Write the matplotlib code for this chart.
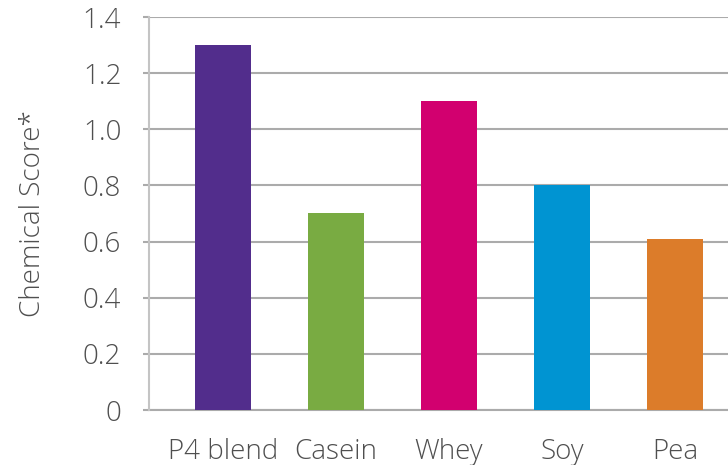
import matplotlib
matplotlib.use("Agg")
import matplotlib.pyplot as plt

categories = ["P4 blend", "Casein", "Whey", "Soy", "Pea"]
scores = [1.30, 0.70, 1.10, 0.80, 0.61]
colors = ["#522d8c", "#79ab42", "#d2006f", "#0094d2", "#dc7c2a"]
yticks = [0, 0.2, 0.4, 0.6, 0.8, 1.0, 1.2, 1.4]
ytick_labels = ["0", "0.2", "0.4", "0.6", "0.8", "1.0", "1.2", "1.4"]

plt.rcParams["font.family"] = ["Open Sans", "DejaVu Sans"]
plt.rcParams["font.weight"] = "light"
plt.rcParams["axes.labelweight"] = "light"
text_color = "#4f4f4f"
grid_color = "#ababab"
fs = 20

fig = plt.figure(figsize=(7.28, 4.65), dpi=100)
ax = fig.add_axes([149 / 728, 1 - 410 / 465, (728 - 149) / 728, (410 - 17) / 465])

x = list(range(len(categories)))
ax.bar(x, scores, width=0.5, color=colors, zorder=3)

ax.set_ylim(0, 1.4)
ax.set_xlim(-0.655, 4.47)
ax.set_yticks(yticks)
ax.set_yticklabels(ytick_labels)
ax.set_xticks(x)
ax.set_xticklabels(categories)

ax.yaxis.grid(True, color=grid_color, linewidth=1.5, zorder=0)
ax.set_axisbelow(True)
for side in ["top", "right", "bottom"]:
    ax.spines[side].set_visible(False)
ax.spines["left"].set_color("#c4c4c4")
ax.spines["left"].set_linewidth(1.5)
ax.axhline(0, color=grid_color, linewidth=1.5, zorder=1, clip_on=False)

ax.tick_params(axis="y", length=4, width=1.5, color=grid_color, pad=16,
               labelsize=fs, labelcolor=text_color)
ax.tick_params(axis="x", length=0, pad=20, labelsize=fs, labelcolor=text_color)

ax.set_ylabel("Chemical Score*", fontsize=fs, fontweight="light",
              color=text_color, labelpad=26)

fig.savefig("out.png", dpi=100)
